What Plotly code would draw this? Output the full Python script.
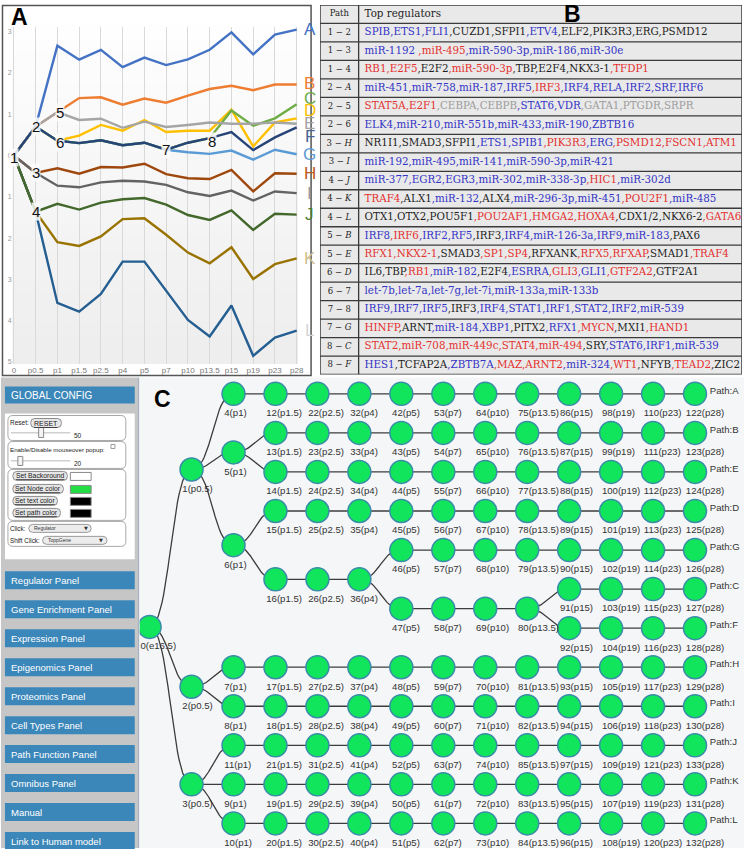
import plotly.graph_objects as go

W, H = 750, 849


def fx(px):
    return px / W


def fy(py):
    return 1 - py / H


# ======================= DATA =======================
# ---- Panel A : expression paths ----
timepoints = ["0", "p0.5", "p1", "p1.5", "p2.5", "p4", "p5", "p7", "p10", "p13.5", "p15", "p19", "p23", "p28"]
path_A = [0.00, 0.70, 2.66, 2.32, 2.56, 2.14, 2.37, 2.19, 2.33, 2.56, 2.98, 2.45, 2.93, 3.05]
path_B = [0.00, 0.70, 1.05, 1.39, 1.41, 1.23, 1.38, 1.28, 1.45, 1.61, 1.69, 1.58, 1.72, 1.72]
path_C = [0.00, 0.70, 0.36, 0.30, 0.37, 0.25, 0.31, 0.14, 0.31, 0.42, 1.09, 0.72, 0.90, 1.24]
path_D = [0.00, 0.70, 0.36, 0.48, 0.74, 0.60, 0.86, 0.57, 0.60, 0.60, 1.11, 0.22, 0.80, 0.90]
path_E = [0.00, 0.70, 1.05, 0.86, 0.89, 0.67, 0.82, 0.69, 0.74, 0.80, 0.77, 0.77, 0.80, 0.77]
path_F = [0.00, 0.70, 0.36, 0.30, 0.37, 0.25, 0.31, 0.14, 0.31, 0.42, 0.57, 0.13, 0.44, 0.68]
path_G = [0.00, 0.70, 0.36, 0.30, 0.37, 0.25, 0.31, 0.14, 0.08, 0.04, 0.12, -0.10, 0.14, 0.03]
path_H = [0.00, -0.42, -0.31, -0.44, -0.28, -0.29, -0.20, -0.45, -0.55, -0.57, -0.35, -0.87, -0.43, -0.44]
path_I = [0.00, -0.42, -0.73, -0.77, -0.65, -0.61, -0.63, -0.71, -0.89, -0.98, -0.85, -1.09, -0.87, -0.91]
path_J = [0.00, -1.36, -1.17, -1.31, -1.14, -1.06, -1.03, -1.19, -1.44, -1.56, -1.33, -1.80, -1.41, -1.43]
path_K = [0.00, -1.36, -2.10, -2.19, -1.96, -1.54, -1.52, -1.92, -2.35, -2.61, -2.22, -2.99, -2.63, -2.49]
path_L = [0.00, -1.36, -3.57, -3.78, -3.35, -2.57, -2.57, -3.29, -3.98, -4.38, -3.63, -4.85, -4.41, -4.24]
path_names = ["A", "B", "C", "D", "E", "F", "G", "H", "I", "J", "K", "L"]
path_values = dict(zip(path_names, [path_A, path_B, path_C, path_D, path_E, path_F,
                                    path_G, path_H, path_I, path_J, path_K, path_L]))

branch_names = ["1", "2", "3", "4", "5", "6", "7", "8"]
branch_time_idx = [0, 1, 1, 1, 2, 2, 7, 9]
branch_on_path = ["A", "A", "H", "J", "B", "D", "F", "F"]

y_ticks = [3, 2, 1, 0, -1, -2, -3, -4, -5]
y_tick_text = ["3", "2", "1", "0", "1", "2", "3", "4", "5"]

# ---- Panel B : top regulators table ----
table_header = ["Path", "Top regulators"]
table_paths = [("1", "2"), ("1", "3"), ("1", "4"), ("2", "A"), ("2", "5"), ("2", "6"),
               ("3", "H"), ("3", "I"), ("4", "J"), ("4", "K"), ("4", "L"), ("5", "B"),
               ("5", "E"), ("6", "D"), ("6", "7"), ("7", "8"), ("7", "G"), ("8", "C"), ("8", "F")]
table_regs = [
    [("SPIB", "b"), ("ETS1", "b"), ("FLI1", "b"), ("CUZD1", "k"), ("SFPI1", "k"), ("ETV4", "b"), ("ELF2", "k"), ("PIK3R3", "k"), ("ERG", "k"), ("PSMD12", "k")],
    [("miR-1192 ", "b"), ("miR-495", "r"), ("miR-590-3p", "b"), ("miR-186", "b"), ("miR-30e", "b")],
    [("RB1", "r"), ("E2F5", "r"), ("E2F2", "k"), ("miR-590-3p", "r"), ("TBP", "k"), ("E2F4", "k"), ("NKX3-1", "k"), ("TFDP1", "r")],
    [("miR-451", "b"), ("miR-758", "b"), ("miR-187", "b"), ("IRF5", "b"), ("IRF3", "r"), ("IRF4", "b"), ("RELA", "b"), ("IRF2", "b"), ("SRF", "b"), ("IRF6", "b")],
    [("STAT5A", "r"), ("E2F1", "r"), ("CEBPA", "g"), ("CEBPB", "g"), ("STAT6", "b"), ("VDR", "b"), ("GATA1", "g"), ("PTGDR", "g"), ("SRPR", "g")],
    [("ELK4", "b"), ("miR-210", "b"), ("miR-551b", "b"), ("miR-433", "b"), ("miR-190", "b"), ("ZBTB16", "b")],
    [("NR1I1", "k"), ("SMAD3", "k"), ("SFPI1", "k"), ("ETS1", "b"), ("SPIB1", "b"), ("PIK3R3", "r"), ("ERG", "b"), ("PSMD12", "r"), ("FSCN1", "r"), ("ATM1", "r")],
    [("miR-192", "b"), ("miR-495", "b"), ("miR-141", "b"), ("miR-590-3p", "b"), ("miR-421", "b")],
    [("miR-377", "b"), ("EGR2", "b"), ("EGR3", "b"), ("miR-302", "b"), ("miR-338-3p", "b"), ("HIC1", "r"), ("miR-302d", "b")],
    [("TRAF4", "r"), ("ALX1", "k"), ("miR-132", "b"), ("ALX4", "k"), ("miR-296-3p", "b"), ("miR-451", "b"), ("POU2F1", "r"), ("miR-485", "b")],
    [("OTX1", "k"), ("OTX2", "k"), ("POU5F1", "k"), ("POU2AF1", "r"), ("HMGA2", "r"), ("HOXA4", "r"), ("CDX1/2", "k"), ("NKX6-2", "k"), ("GATA6", "r")],
    [("IRF8", "b"), ("IRF6", "r"), ("IRF2", "b"), ("RF5", "b"), ("IRF3", "k"), ("IRF4", "b"), ("miR-126-3a", "b"), ("IRF9", "b"), ("miR-183", "b"), ("PAX6", "k")],
    [("RFX1", "r"), ("NKX2-1", "r"), ("SMAD3", "k"), ("SP1", "r"), ("SP4", "r"), ("RFXANK", "k"), ("RFX5", "r"), ("RFXAP", "r"), ("SMAD1", "k"), ("TRAF4", "r")],
    [("IL6", "k"), ("TBP", "k"), ("RB1", "r"), ("miR-182", "b"), ("E2F4", "k"), ("ESRRA", "b"), ("GLI3", "r"), ("GLI1", "b"), ("GTF2A2", "r"), ("GTF2A1", "k")],
    [("let-7b", "b"), ("let-7a", "b"), ("let-7g", "b"), ("let-7i", "b"), ("miR-133a", "b"), ("miR-133b", "b")],
    [("IRF9", "b"), ("IRF7", "b"), ("IRF5", "b"), ("IRF3", "k"), ("IRF4", "b"), ("STAT1", "b"), ("IRF1", "b"), ("STAT2", "b"), ("IRF2", "b"), ("miR-539", "b")],
    [("HINFP", "r"), ("ARNT", "k"), ("miR-184", "b"), ("XBP1", "b"), ("PITX2", "k"), ("RFX1", "b"), ("MYCN", "r"), ("MXI1", "k"), ("HAND1", "r")],
    [("STAT2", "r"), ("miR-708", "r"), ("miR-449c", "r"), ("STAT4", "r"), ("miR-494", "r"), ("SRY", "k"), ("STAT6", "b"), ("IRF1", "b"), ("miR-539", "b")],
    [("HES1", "b"), ("TCFAP2A", "k"), ("ZBTB7A", "b"), ("MAZ", "r"), ("ARNT2", "r"), ("miR-324", "b"), ("WT1", "r"), ("NFYB", "k"), ("TEAD2", "r"), ("ZIC2", "k")],
]

# ---- Panel C : tree of paths ----
tree_times = ["e16.5", "p0.5", "p1", "p1.5", "p2.5", "p4", "p5", "p7", "p10", "p13.5", "p15", "p19", "p23", "p28"]
# (parent node, first time point, node ids along the chain, leaf path name)
tree_chains = [
    (None, "e16.5", [0], None),
    (0, "p0.5", [1], None),
    (1, "p1", [4, 12, 22, 32, 42, 53, 64, 75, 86, 98, 110, 122], "A"),
    (1, "p1", [5], None),
    (5, "p1.5", [13, 23, 33, 43, 54, 65, 76, 87, 99, 111, 123], "B"),
    (5, "p1.5", [14, 24, 34, 44, 55, 66, 77, 88, 100, 112, 124], "E"),
    (1, "p1", [6], None),
    (6, "p1.5", [15, 25, 35, 45, 56, 67, 78, 89, 101, 113, 125], "D"),
    (6, "p1.5", [16, 26, 36], None),
    (36, "p5", [46, 57, 68, 79, 90, 102, 114, 126], "G"),
    (36, "p5", [47, 58, 69, 80], None),
    (80, "p15", [91, 103, 115, 127], "C"),
    (80, "p15", [92, 104, 116, 128], "F"),
    (0, "p0.5", [2], None),
    (2, "p1", [7, 17, 27, 37, 48, 59, 70, 81, 93, 105, 117, 129], "H"),
    (2, "p1", [8, 18, 28, 38, 49, 60, 71, 82, 94, 106, 118, 130], "I"),
    (0, "p0.5", [3], None),
    (3, "p1", [11, 21, 31, 41, 52, 63, 74, 85, 97, 109, 121, 133], "J"),
    (3, "p1", [9, 19, 29, 39, 50, 61, 72, 83, 95, 107, 119, 131], "K"),
    (3, "p1", [10, 20, 30, 40, 51, 62, 73, 84, 96, 108, 120, 132], "L"),
]

# ---- Left control panel ----
gui_panels = ["Regulator Panel", "Gene Enrichment Panel", "Expression Panel", "Epigenomics Panel",
              "Proteomics Panel", "Cell Types Panel", "Path Function Panel", "Omnibus Panel",
              "Manual", "Link to Human model"]
gui_buttons = ["Set Backoround", "Set Node color", "Set text color", "Set path color"]
gui_swatches = ["#FFFFFF", "#22DD44", "#000000", "#000000"]

# ======================= STYLE =======================
path_colors = {"A": "#4472C4", "B": "#ED7D31", "C": "#70AD47", "D": "#FFC000", "E": "#A5A5A5",
               "F": "#264478", "G": "#5B9BD5", "H": "#9E480E", "I": "#636363", "J": "#43682B",
               "K": "#997300", "L": "#255E91"}
letter_colors = {"A": "#4472C4", "B": "#ED7D31", "C": "#70AD47", "D": "#FFC000", "E": "#A5A5A5",
                 "F": "#4A6594", "G": "#5B9BD5", "H": "#C0581C", "I": "#9A9A9A", "J": "#4E7A2F",
                 "K": "#CFC08F", "L": "#D6D6D6"}
letter_dy = {"C": 0.15, "D": 0.18, "F": -0.23, "B": 0.03}
draw_order = ["A", "B", "D", "G", "C", "H", "K", "L", "E", "I", "J", "F"]
branch_shift = {"1": (0, -2), "5": (3, 0), "6": (3, -2), "8": (2, -3)}
reg_colors = {"b": "#3434C6", "r": "#E4312F", "k": "#1E1E1E", "g": "#9C9C9C"}

fig = go.Figure()
shapes = []
annotations = []

# ======================= PANEL A =======================
A_X0, A_STEP, A_ZERO, A_UNIT = 13.0, 21.96, 155.7, 41.35
ax_range = [-0.06, len(timepoints) - 1 + 0.06]
ay_range = [-5.05, 3.12]
a_dom_x = [fx(A_X0 + ax_range[0] * A_STEP), fx(A_X0 + ax_range[1] * A_STEP)]
a_dom_y = [fy(A_ZERO - ay_range[0] * A_UNIT), fy(A_ZERO - ay_range[1] * A_UNIT)]

# gradient background
nb = 24
for i in range(nb):
    t = i / nb
    g = int(238 + (255 - 238) * t)
    shapes.append(dict(type="rect", xref="x domain", yref="y domain", x0=0, x1=1, y0=t, y1=(i + 1) / nb,
                       fillcolor=f"rgb({g},{g},{g})", line=dict(width=0), layer="below"))

xs = list(range(len(timepoints)))
for name in draw_order:
    fig.add_trace(go.Scatter(x=xs, y=path_values[name], mode="lines", xaxis="x", yaxis="y",
                             line=dict(color=path_colors[name], width=2.4), hoverinfo="skip",
                             showlegend=False))

for nm, xi, p in zip(branch_names, branch_time_idx, branch_on_path):
    sx, sy = branch_shift.get(nm, (0, 0))
    annotations.append(dict(x=xi, y=path_values[p][xi], xref="x", yref="y", text=nm, showarrow=False,
                            xshift=sx, yshift=sy, xanchor="center", yanchor="middle",
                            bgcolor="rgba(252,252,252,0.85)", borderpad=0,
                            font=dict(family="Liberation Sans", size=15, color="#111111")))

for name in path_names:
    annotations.append(dict(x=len(timepoints) - 1, y=path_values[name][-1] + letter_dy.get(name, 0),
                            xref="x", yref="y", xshift=13, text=name, showarrow=False,
                            xanchor="center", yanchor="middle",
                            font=dict(family="Liberation Sans", size=17, color=letter_colors[name])))

shapes.append(dict(type="rect", xref="paper", yref="paper", x0=fx(1.5), x1=fx(313), y0=fy(376), y1=fy(5.5),
                   line=dict(color="#555555", width=1.5), fillcolor="rgba(0,0,0,0)", layer="above"))


def big_letter(x, y, txt):
    annotations.append(dict(x=fx(x), y=fy(y), xref="paper", yref="paper", text=f"<b>{txt}</b>",
                            showarrow=False, xanchor="center", yanchor="middle",
                            font=dict(family="Liberation Sans", size=23, color="#000")))


big_letter(19, 17, "A")

# ======================= PANEL B =======================
TB_X0, TB_COL, TB_X1, TB_Y0, TB_Y1 = 322, 361, 748, 5, 375
n_rows = len(table_paths) + 1


def fmt_end(s):
    return f"<i>{s}</i>" if s.isalpha() else s


path_texts = [table_header[0]] + [f"{a} \u2212 {fmt_end(b)}" for a, b in table_paths]
reg_texts = [table_header[1]]
for row in table_regs:
    parts = []
    for k, (nm, c) in enumerate(row):
        parts.append(f"<span style='color:{reg_colors[c]}'>{',' if k else ''}{nm}</span>")
    reg_texts.append("".join(parts))

shapes.append(dict(type="rect", xref="x2", yref="y2", x0=TB_X0, x1=TB_X1, y0=-0.5, y1=n_rows - 0.5,
                   fillcolor="#E9E9E9", line=dict(color="#3A3A3A", width=1.5), layer="below"))
for r in range(n_rows - 1):
    shapes.append(dict(type="line", xref="x2", yref="y2", x0=TB_X0, x1=TB_X1, y0=r + 0.5, y1=r + 0.5,
                       line=dict(color="#3A3A3A", width=1.3), layer="below"))
shapes.append(dict(type="line", xref="x2", yref="y2", x0=TB_COL, x1=TB_COL, y0=-0.5, y1=n_rows - 0.5,
                   line=dict(color="#3A3A3A", width=1.3), layer="below"))

rows_idx = list(range(n_rows))
fig.add_trace(go.Scatter(x=[(TB_X0 + TB_COL) / 2] * n_rows, y=rows_idx, text=path_texts, mode="text",
                         textposition="middle center", xaxis="x2", yaxis="y2", cliponaxis=False,
                         textfont=dict(family="DejaVu Serif", size=8.5, color="#1E1E1E"),
                         hoverinfo="skip", showlegend=False))
fig.add_trace(go.Scatter(x=[TB_COL + 6] * n_rows, y=rows_idx, text=reg_texts, mode="text",
                         textposition="middle right", xaxis="x2", yaxis="y2", cliponaxis=False,
                         textfont=dict(family="DejaVu Serif", size=10.3, color="#1E1E1E"),
                         hoverinfo="skip", showlegend=False))
big_letter(577, 14, "B")

# ======================= PANEL C =======================
C_X0, C_STEP, C_Y0, C_ROW = 150.0, 42.35, 394.3, 39.1
C_LEFT, C_TOP = 140, 378
cx_range = [(C_LEFT - C_X0) / C_STEP, (W - C_X0) / C_STEP]
cy_range = [(H - C_Y0) / C_ROW, (C_TOP - C_Y0) / C_ROW]

# tree layout: leaves in order, parents at the midpoint of first and last child
children = {}
for i, (parent, start, ids, leaf) in enumerate(tree_chains):
    if parent is None:
        continue
    for j, ch in enumerate(tree_chains):
        if ch[2][-1] == parent:
            children.setdefault(j, []).append(i)
chain_row = {}
leaf_counter = [0]


def assign(i):
    if i in children:
        for c in children[i]:
            assign(c)
        chain_row[i] = (chain_row[children[i][0]] + chain_row[children[i][-1]]) / 2
    else:
        chain_row[i] = leaf_counter[0]
        leaf_counter[0] += 1


assign(0)

node_pos, node_time = {}, {}
for i, (parent, start, ids, leaf) in enumerate(tree_chains):
    c0 = tree_times.index(start)
    for k, nid in enumerate(ids):
        node_pos[nid] = (c0 + k, chain_row[i])
        node_time[nid] = tree_times[c0 + k]

ex, ey = [], []


def add_edge(a, b, n=24):
    (x0, y0), (x1, y1) = node_pos[a], node_pos[b]
    xm = (x0 + x1) / 2
    for s in range(n + 1):
        t = s / n
        u = 1 - t
        ex.append(u ** 3 * x0 + 3 * u * u * t * xm + 3 * u * t * t * xm + t ** 3 * x1)
        ey.append(u ** 3 * y0 + 3 * u * u * t * y0 + 3 * u * t * t * y1 + t ** 3 * y1)
    ex.append(None)
    ey.append(None)


for parent, start, ids, leaf in tree_chains:
    if parent is not None:
        add_edge(parent, ids[0])
    for a, b in zip(ids[:-1], ids[1:]):
        add_edge(a, b, n=1)

fig.add_trace(go.Scatter(x=ex, y=ey, mode="lines", xaxis="x3", yaxis="y3",
                         line=dict(color="#3C3C3C", width=1.3), hoverinfo="skip", showlegend=False))
nids = list(node_pos.keys())
fig.add_trace(go.Scatter(x=[node_pos[n][0] for n in nids], y=[node_pos[n][1] for n in nids],
                         mode="markers", xaxis="x3", yaxis="y3",
                         marker=dict(size=23, color="#10E55C", line=dict(color="#3A8CA8", width=1.5)),
                         hoverinfo="skip", showlegend=False))
LABEL_DY = 20 / C_ROW
LABEL_DX = -9.3 / C_STEP
fig.add_trace(go.Scatter(x=[node_pos[n][0] + LABEL_DX for n in nids], y=[node_pos[n][1] + LABEL_DY for n in nids],
                         text=[f"{n}({node_time[n]})" for n in nids], mode="text", textposition="middle right",
                         xaxis="x3", yaxis="y3", cliponaxis=False,
                         textfont=dict(family="Liberation Sans", size=9.6, color="#333333"),
                         hoverinfo="skip", showlegend=False))
leaf_chains = [ch for ch in tree_chains if ch[3]]
fig.add_trace(go.Scatter(x=[node_pos[ch[2][-1]][0] + 15 / C_STEP for ch in leaf_chains],
                         y=[node_pos[ch[2][-1]][1] - 0.07 for ch in leaf_chains],
                         text=[f"Path:{ch[3]}" for ch in leaf_chains], mode="text", textposition="middle right",
                         xaxis="x3", yaxis="y3", cliponaxis=False,
                         textfont=dict(family="Liberation Sans", size=9.6, color="#333333"),
                         hoverinfo="skip", showlegend=False))
shapes.append(dict(type="line", xref="paper", yref="paper", x0=fx(138.5), x1=fx(138.5), y0=fy(849), y1=fy(378),
                   line=dict(color="#A9B4C0", width=2), layer="above"))
big_letter(163, 399, "C")

# ======================= LEFT CONTROL PANEL =======================


def rect(x0, y0, x1, y1, fill, line=None, lw=0):
    shapes.append(dict(type="rect", xref="paper", yref="paper", x0=fx(x0), x1=fx(x1), y0=fy(y1), y1=fy(y0),
                       fillcolor=fill, line=dict(color=line or fill, width=lw), layer="above"))


def rrect(x0, y0, x1, y1, r, fill, line, lw=1):
    p = (f"M {fx(x0 + r)},{fy(y0)} L {fx(x1 - r)},{fy(y0)} Q {fx(x1)},{fy(y0)} {fx(x1)},{fy(y0 + r)} "
         f"L {fx(x1)},{fy(y1 - r)} Q {fx(x1)},{fy(y1)} {fx(x1 - r)},{fy(y1)} L {fx(x0 + r)},{fy(y1)} "
         f"Q {fx(x0)},{fy(y1)} {fx(x0)},{fy(y1 - r)} L {fx(x0)},{fy(y0 + r)} Q {fx(x0)},{fy(y0)} {fx(x0 + r)},{fy(y0)} Z")
    shapes.append(dict(type="path", xref="paper", yref="paper", path=p, fillcolor=fill,
                       line=dict(color=line, width=lw), layer="above"))


def label(x, y, text, size, color="#222222", anchor="left", family="Liberation Sans"):
    annotations.append(dict(x=fx(x), y=fy(y), xref="paper", yref="paper", text=text, showarrow=False,
                            xanchor=anchor, yanchor="middle", borderpad=0,
                            font=dict(family=family, size=size, color=color)))


BLUE = "#3C87BA"
rect(0, 378, 138, 849, "#C6C6C6")
rect(4, 387, 135, 404, BLUE)
label(9, 395.5, "GLOBAL CONFIG", 10, "#FFFFFF")
rect(4, 414, 135, 560, "#FFFFFF")
rrect(7, 416, 126, 441, 5, "#FFFFFF", "#A8A8A8")
rrect(7, 442, 126, 469, 5, "#FFFFFF", "#A8A8A8")
rrect(7, 470, 126, 521, 5, "#FFFFFF", "#A8A8A8")
rrect(7, 522, 126, 547, 5, "#FFFFFF", "#A8A8A8")

label(8, 423, "Reset:", 6.5)
rrect(30, 419, 61, 428, 4, "#E6E6E6", "#8C8C8C")
label(45.5, 423.5, "<u>RESET</u>", 7, "#222", anchor="center")
rect(10, 432.5, 70, 434, "#D0D0D0")
rect(38, 428, 43, 438, "#F4F4F4", "#8A8A8A", 1)
label(73, 436, "50", 6.5)

label(8, 450, "Enable/Disable mouseover popup:", 6.2)
rect(111, 445, 115, 449, "#FFFFFF", "#9A9A9A", 1)
rect(10, 460.5, 70, 462, "#D0D0D0")
rect(17, 457, 22, 466, "#F4F4F4", "#8A8A8A", 1)
label(73, 464, "20", 6.5)

btn_geom = [(12, 472, 67, 481), (12, 485, 63, 494), (12, 497, 57, 506), (12, 509, 60, 518)]
for (x0, y0, x1, y1), txt, sw in zip(btn_geom, gui_buttons, gui_swatches):
    rrect(x0, y0, x1, y1, 4, "#E6E6E6", "#8C8C8C")
    label((x0 + x1) / 2, (y0 + y1) / 2, f"<u>{txt}</u>", 6.8, "#222", anchor="center")
    rect(70, y0 + 1, 91, y1, sw, "#8A8A8A", 1)

label(8, 529, "Click:", 6.3)
rrect(28, 525, 91, 533, 4, "#ECECEC", "#9A9A9A")
label(32, 529, "Regulator", 5, "#333")
label(86, 529, "\u25BC", 5, "#333", anchor="center", family="DejaVu Sans")
label(8, 541, "Shift Click:", 6.3)
rrect(42, 537, 107, 545, 4, "#ECECEC", "#9A9A9A")
label(46, 541, "ToppGene", 5, "#333")
label(101, 541, "\u25BC", 5, "#333", anchor="center", family="DejaVu Sans")

for k, txt in enumerate(gui_panels):
    top = 572 + 29 * k
    rect(4, top, 135, top + 18, BLUE)
    label(9, top + 9, txt, 9.5, "#FFFFFF")

# ======================= LAYOUT =======================
fig.update_layout(
    width=W, height=849, margin=dict(l=0, r=0, t=0, b=0),
    paper_bgcolor="#FFFFFF", plot_bgcolor="#F5F6F8", showlegend=False,
    font=dict(family="Liberation Sans", color="#222"),
    xaxis=dict(domain=a_dom_x, range=ax_range, anchor="y", tickvals=xs, ticktext=timepoints,
               showgrid=True, gridcolor="#D9D9D9", gridwidth=1, zeroline=False, showline=False,
               ticks="", tickfont=dict(size=8, color="#777777"), fixedrange=True),
    yaxis=dict(domain=a_dom_y, range=ay_range, anchor="x", tickvals=y_ticks, ticktext=y_tick_text,
               showgrid=False, zeroline=False, showline=False, ticks="",
               tickfont=dict(size=7, color="#999999"), fixedrange=True),
    xaxis2=dict(domain=[fx(TB_X0), fx(TB_X1)], range=[TB_X0, TB_X1], anchor="y2", visible=False),
    yaxis2=dict(domain=[fy(TB_Y1), fy(TB_Y0)], range=[n_rows - 0.5, -0.5], anchor="x2", visible=False),
    xaxis3=dict(domain=[fx(C_LEFT), 1], range=cx_range, anchor="y3", visible=False),
    yaxis3=dict(domain=[0, fy(C_TOP)], range=cy_range, anchor="x3", visible=False),
    shapes=shapes, annotations=annotations,
)

fig.write_html("out.html", config={"displayModeBar": False},
               post_script="document.body.style.margin='0px';document.body.style.overflow='hidden';")
